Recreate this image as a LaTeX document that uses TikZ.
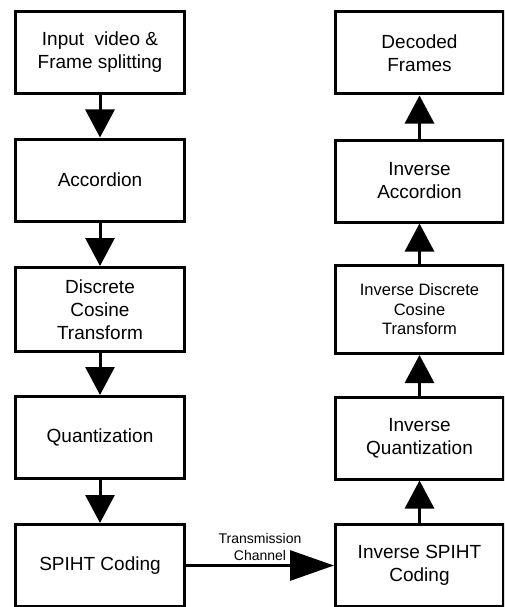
\documentclass[tikz,border=0pt]{standalone}
\usepackage{fontspec}
\setmainfont{Liberation Sans}
\usetikzlibrary{arrows.meta}
\tikzset{
  block/.style={draw,line width=3pt,minimum width=169pt,minimum height=82pt,
    align=center,font=\fontsize{19}{23}\selectfont},
  flow/.style={line width=3pt,-{Triangle[length=28pt,width=29pt]}},
}
\begin{document}
\begin{tikzpicture}[x=1pt,y=-1pt]
\useasboundingbox (0,0) rectangle (504,607);
\clip (0,0) rectangle (504,607);
% encoder side
\node[block] (input) at (100,52.5) {Input~~video \&\\Frame splitting};
\node[block] (acc) at (100,180) {Accordion};
\node[block,minimum height=84pt] (dct) at (100,309.5) {Discrete\\Cosine\\Transform};
\node[block] (quant) at (100,437.5) {Quantization};
\node[block] (spiht) at (100,565.5) {SPIHT Coding};
% decoder side
\node[block,minimum width=168pt] (dec) at (419.5,53) {Decoded\\Frames};
\node[block,minimum width=168pt] (iacc) at (419.5,181) {Inverse\\Accordion};
\node[block,minimum width=168pt,minimum height=88pt,
  font=\fontsize{16.5}{19.5}\selectfont] (idct) at (419.5,309.5) {Inverse Discrete\\Cosine\\Transform};
\node[block,minimum width=168pt] (iquant) at (419.5,438) {Inverse\\Quantization};
\node[block,minimum width=168pt] (ispiht) at (419.5,565.5) {Inverse SPIHT\\Coding};
% arrows
\draw[flow] (input) -- (acc);
\draw[flow] (acc) -- (dct);
\draw[flow] (dct) -- (quant);
\draw[flow] (quant) -- (spiht);
\draw[flow] (ispiht) -- (iquant);
\draw[flow] (iquant) -- (idct);
\draw[flow] (idct) -- (iacc);
\draw[flow] (iacc) -- (dec);
\draw[line width=3pt,-{Triangle[length=44pt,width=30pt]}] (spiht) -- (ispiht)
  node[midway,above,align=center,inner sep=3pt,font=\fontsize{14}{17}\selectfont] (chan) {Transmission\\Channel};
\end{tikzpicture}
\end{document}
